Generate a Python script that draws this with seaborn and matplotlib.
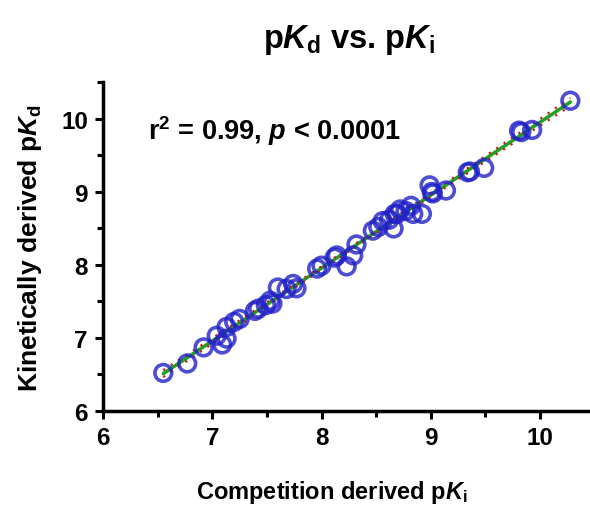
import numpy as np
import pandas as pd
from matplotlib import pyplot as plt
from matplotlib.ticker import MultipleLocator
import seaborn as sns

# competition derived pKi (x) and kinetically derived pKd (y)
pki = [6.55, 6.77, 6.92, 7.04, 7.09, 7.13, 7.13, 7.20, 7.25, 7.39, 7.42, 7.49,
       7.53, 7.55, 7.60, 7.68, 7.74, 7.77, 7.96, 8.00, 8.12, 8.14, 8.23, 8.29,
       8.32, 8.47, 8.52, 8.56, 8.62, 8.67, 8.66, 8.69, 8.72, 8.77, 8.82, 8.84,
       8.92, 8.99, 9.01, 9.02, 9.14, 9.34, 9.36, 9.49, 9.81, 9.83, 9.93, 10.28]
pkd = [6.52, 6.65, 6.87, 7.03, 6.91, 6.99, 7.15, 7.22, 7.26, 7.37, 7.40, 7.45,
       7.51, 7.47, 7.69, 7.67, 7.74, 7.68, 7.95, 7.99, 8.10, 8.13, 7.98, 8.13,
       8.28, 8.47, 8.52, 8.60, 8.62, 8.70, 8.50, 8.70, 8.76, 8.74, 8.81, 8.70,
       8.70, 9.09, 9.00, 8.98, 9.02, 9.27, 9.28, 9.33, 9.84, 9.82, 9.85, 10.25]
stats_text = r'r$^\mathrm{2}$ = 0.99, $p$ < 0.0001'

df = pd.DataFrame({'pKi': pki, 'pKd': pkd})

sns.set_style('ticks')
plt.rcParams['font.family'] = ['Liberation Sans', 'DejaVu Sans']
plt.rcParams['font.weight'] = 'bold'
plt.rcParams['text.color'] = 'black'
plt.rcParams['axes.labelcolor'] = 'black'
plt.rcParams['xtick.color'] = 'black'
plt.rcParams['ytick.color'] = 'black'
plt.rcParams['axes.edgecolor'] = 'black'
plt.rcParams['mathtext.fontset'] = 'custom'
plt.rcParams['mathtext.rm'] = 'Liberation Sans:bold'
plt.rcParams['mathtext.it'] = 'Liberation Sans:bold:italic'
plt.rcParams['mathtext.bf'] = 'Liberation Sans:bold'

fig = plt.figure(figsize=(5.9, 5.06), dpi=100)
ax = fig.add_axes([0.175, 0.186, 0.825, 0.649])

# linear fit + 95% confidence band (dotted red lines)
n = len(df)
slope, icpt = np.polyfit(df.pKi, df.pKd, 1)
xf = np.linspace(df.pKi.min(), df.pKi.max(), 100)
yf = slope * xf + icpt
resid = df.pKd - (slope * df.pKi + icpt)
s = np.sqrt(np.sum(resid ** 2) / (n - 2))
se = s * np.sqrt(1 / n + (xf - df.pKi.mean()) ** 2 / np.sum((df.pKi - df.pKi.mean()) ** 2))
band = 2.01 * se

sns.scatterplot(data=df, x='pKi', y='pKd', ax=ax, marker='o', s=145,
                facecolors='none', edgecolors='#2222c8', linewidths=2.6, alpha=0.8, zorder=3)
ax.plot(xf, yf, color='#1fa01f', lw=2.5, zorder=2)
ax.plot(xf, yf + band, color='#c0201c', lw=1.6, ls=(0, (1, 3)), zorder=2)
ax.plot(xf, yf - band, color='#c0201c', lw=1.6, ls=(0, (1, 3)), zorder=2)

ax.set_xlim(6, 10.46)
ax.set_ylim(6, 10.5)
ax.xaxis.set_major_locator(MultipleLocator(1))
ax.yaxis.set_major_locator(MultipleLocator(1))
ax.xaxis.set_minor_locator(MultipleLocator(0.5))
ax.yaxis.set_minor_locator(MultipleLocator(0.5))
ax.tick_params(which='major', length=6, width=2.2, labelsize=17.5, pad=5)
ax.tick_params(which='minor', length=4, width=2.2)
for lab in ax.get_xticklabels() + ax.get_yticklabels():
    lab.set_fontweight('bold')

sns.despine(ax=ax)
for sp in ['left', 'bottom']:
    ax.spines[sp].set_linewidth(2.5)

ax.set_xlabel(r'Competition derived p$K_\mathrm{i}$', fontsize=17, fontweight='bold')
ax.xaxis.set_label_coords(0.47, -0.205)
ax.set_ylabel(r'Kinetically derived p$K_\mathrm{d}$', fontsize=19, fontweight='bold', labelpad=12)
ax.text(6.41, 9.85, stats_text, fontsize=19.5, fontweight='bold', va='center')
fig.text(0.592, 0.92, r'p$K_\mathrm{d}$ vs. p$K_\mathrm{i}$', fontsize=23.5,
         fontweight='bold', ha='center', va='center')

fig.savefig('out.png', dpi=100)
